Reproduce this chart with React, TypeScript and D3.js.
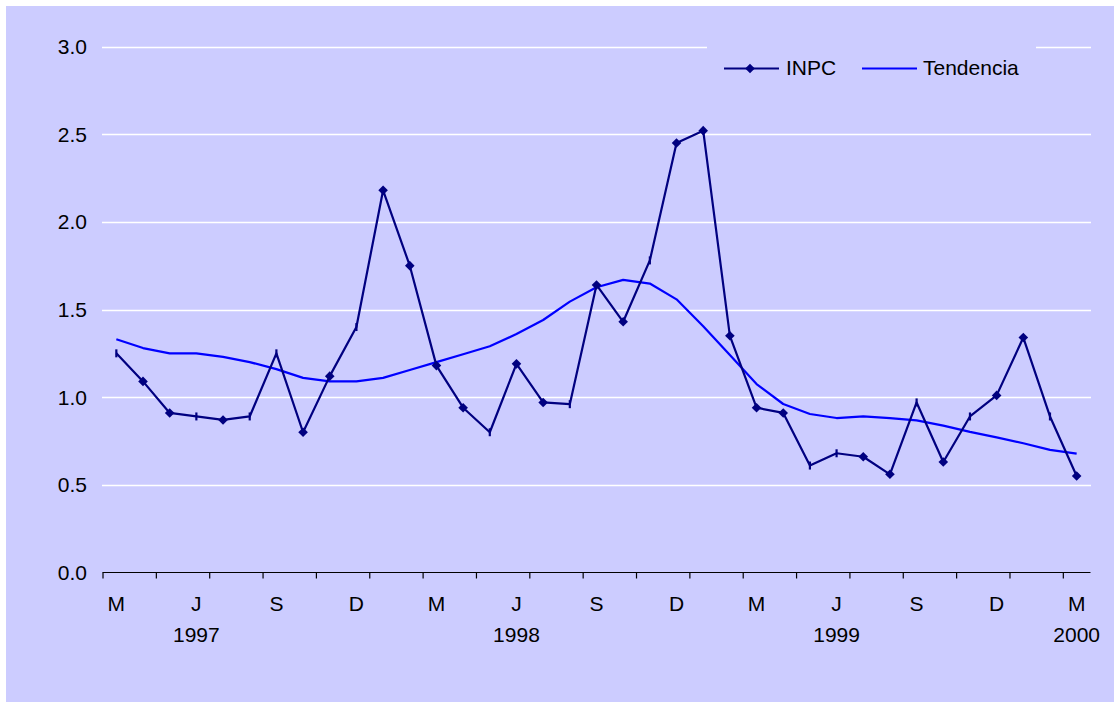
import React from "react";
import * as d3 from "d3";

const monthLabels = ["M", "J", "S", "D", "M", "J", "S", "D", "M", "J", "S", "D", "M"];
const yearLabels = [
  { idx: 3, label: "1997" },
  { idx: 15, label: "1998" },
  { idx: 27, label: "1999" },
  { idx: 36, label: "2000" },
];
const inpc = [
  1.25, 1.09, 0.91, 0.89, 0.87, 0.89, 1.25, 0.8, 1.12, 1.4, 2.18, 1.75,
  1.18, 0.94, 0.8, 1.19, 0.97, 0.96, 1.64, 1.43, 1.78, 2.45, 2.52, 1.35,
  0.94, 0.91, 0.61, 0.68, 0.66, 0.56, 0.97, 0.63, 0.89, 1.01, 1.34, 0.89, 0.55,
];
const tendencia = [
  1.33, 1.28, 1.25, 1.25, 1.23, 1.2, 1.16, 1.11, 1.09, 1.09, 1.11, 1.155,
  1.2, 1.245, 1.29, 1.36, 1.44, 1.545, 1.627, 1.669, 1.648, 1.558, 1.405, 1.24,
  1.075, 0.961, 0.904, 0.881, 0.891, 0.88, 0.868, 0.838, 0.802, 0.771, 0.737, 0.699, 0.678,
];
// points whose diamond marker is drawn as a thin vertical stroke in the original
const strokeMarkerIdx = [0, 3, 5, 6, 9, 14, 17, 20, 26, 27, 30, 32, 35];
const yTicks = [0, 0.5, 1.0, 1.5, 2.0, 2.5, 3.0];
const seriesNames = ["INPC", "Tendencia"];

const W = 1114;
const H = 702;
const BG = "#CCCCFF";
const NAVY = "#000080";
const BLUE = "#0000FF";
const FONT = "Arial, 'Liberation Sans', sans-serif";

export default function App() {
  const idx = d3.range(inpc.length);
  const x = d3.scaleBand<number>().domain(idx).range([103, 1090]).padding(0);
  const step = x.step();
  const cx = (i: number) => (x(i) as number) + x.bandwidth() / 2;
  const y = d3.scaleLinear().domain([0, 3]).range([572.5, 46.5]);

  const line = d3
    .line<number>()
    .x((_, i) => cx(i))
    .y((d) => y(d));

  const axisTicks = d3.range(0, inpc.length, 2).map((k) => 103 + k * step);

  return (
    <svg
      width={W}
      height={H}
      style={{ position: "absolute", left: 0, top: 0, display: "block" }}
      fontFamily={FONT}
    >
      <rect x={0} y={0} width={W} height={H} fill="#FFFFFF" />
      <rect x={6} y={6} width={W - 6} height={H - 6} fill={BG} />

      {yTicks.slice(1).map((t) => (
        <line key={t} x1={102} x2={1091} y1={Math.round(y(t)) + 0.5} y2={Math.round(y(t)) + 0.5} stroke="#FFFFFF" strokeWidth={1.3} />
      ))}
      {yTicks.map((t) => (
        <text key={"yl" + t} x={87} y={y(t)} dy="0.36em" textAnchor="end" fontSize={21} fill="#000">
          {t.toFixed(1)}
        </text>
      ))}

      {/* x axis */}
      <line x1={102.5} x2={1090.5} y1={572.5} y2={572.5} stroke="#000" strokeWidth={1.2} />
      {axisTicks.map((tx, i) => (
        <line key={"t" + i} x1={tx} x2={tx} y1={572.5} y2={578.5} stroke="#000" strokeWidth={1.2} />
      ))}
      {monthLabels.map((m, i) => (
        <text key={"m" + i} x={cx(i * 3)} y={611} textAnchor="middle" fontSize={21} fill="#000">
          {m}
        </text>
      ))}
      {yearLabels.map((yl) => (
        <text key={yl.label} x={cx(yl.idx)} y={642} textAnchor="middle" fontSize={21} fill="#000">
          {yl.label}
        </text>
      ))}

      {/* series */}
      <path d={line(tendencia) || ""} fill="none" stroke={BLUE} strokeWidth={2.2} strokeLinejoin="round" />
      <path d={line(inpc) || ""} fill="none" stroke={NAVY} strokeWidth={2.2} strokeLinejoin="round" />
      {inpc.map((v, i) =>
        strokeMarkerIdx.includes(i) ? (
          <line key={"p" + i} x1={cx(i)} x2={cx(i)} y1={y(v) - 4} y2={y(v) + 4} stroke={NAVY} strokeWidth={2.2} />
        ) : (
          <path
            key={"p" + i}
            d={`M${cx(i)},${y(v) - 4.8}L${cx(i) + 4.8},${y(v)}L${cx(i)},${y(v) + 4.8}L${cx(i) - 4.8},${y(v)}Z`}
            fill={NAVY}
          />
        )
      )}

      {/* legend */}
      <rect x={707} y={36} width={329} height={62} fill={BG} />
      <line x1={724} x2={779} y1={68.5} y2={68.5} stroke={NAVY} strokeWidth={2.2} />
      <path d="M750,63.7L754.8,68.5L750,73.3L745.2,68.5Z" fill={NAVY} />
      <text x={786} y={75} fontSize={21} fill="#000">{seriesNames[0]}</text>
      <line x1={862} x2={917} y1={68.5} y2={68.5} stroke={BLUE} strokeWidth={2.2} />
      <text x={923} y={75} fontSize={21} fill="#000">{seriesNames[1]}</text>
    </svg>
  );
}
